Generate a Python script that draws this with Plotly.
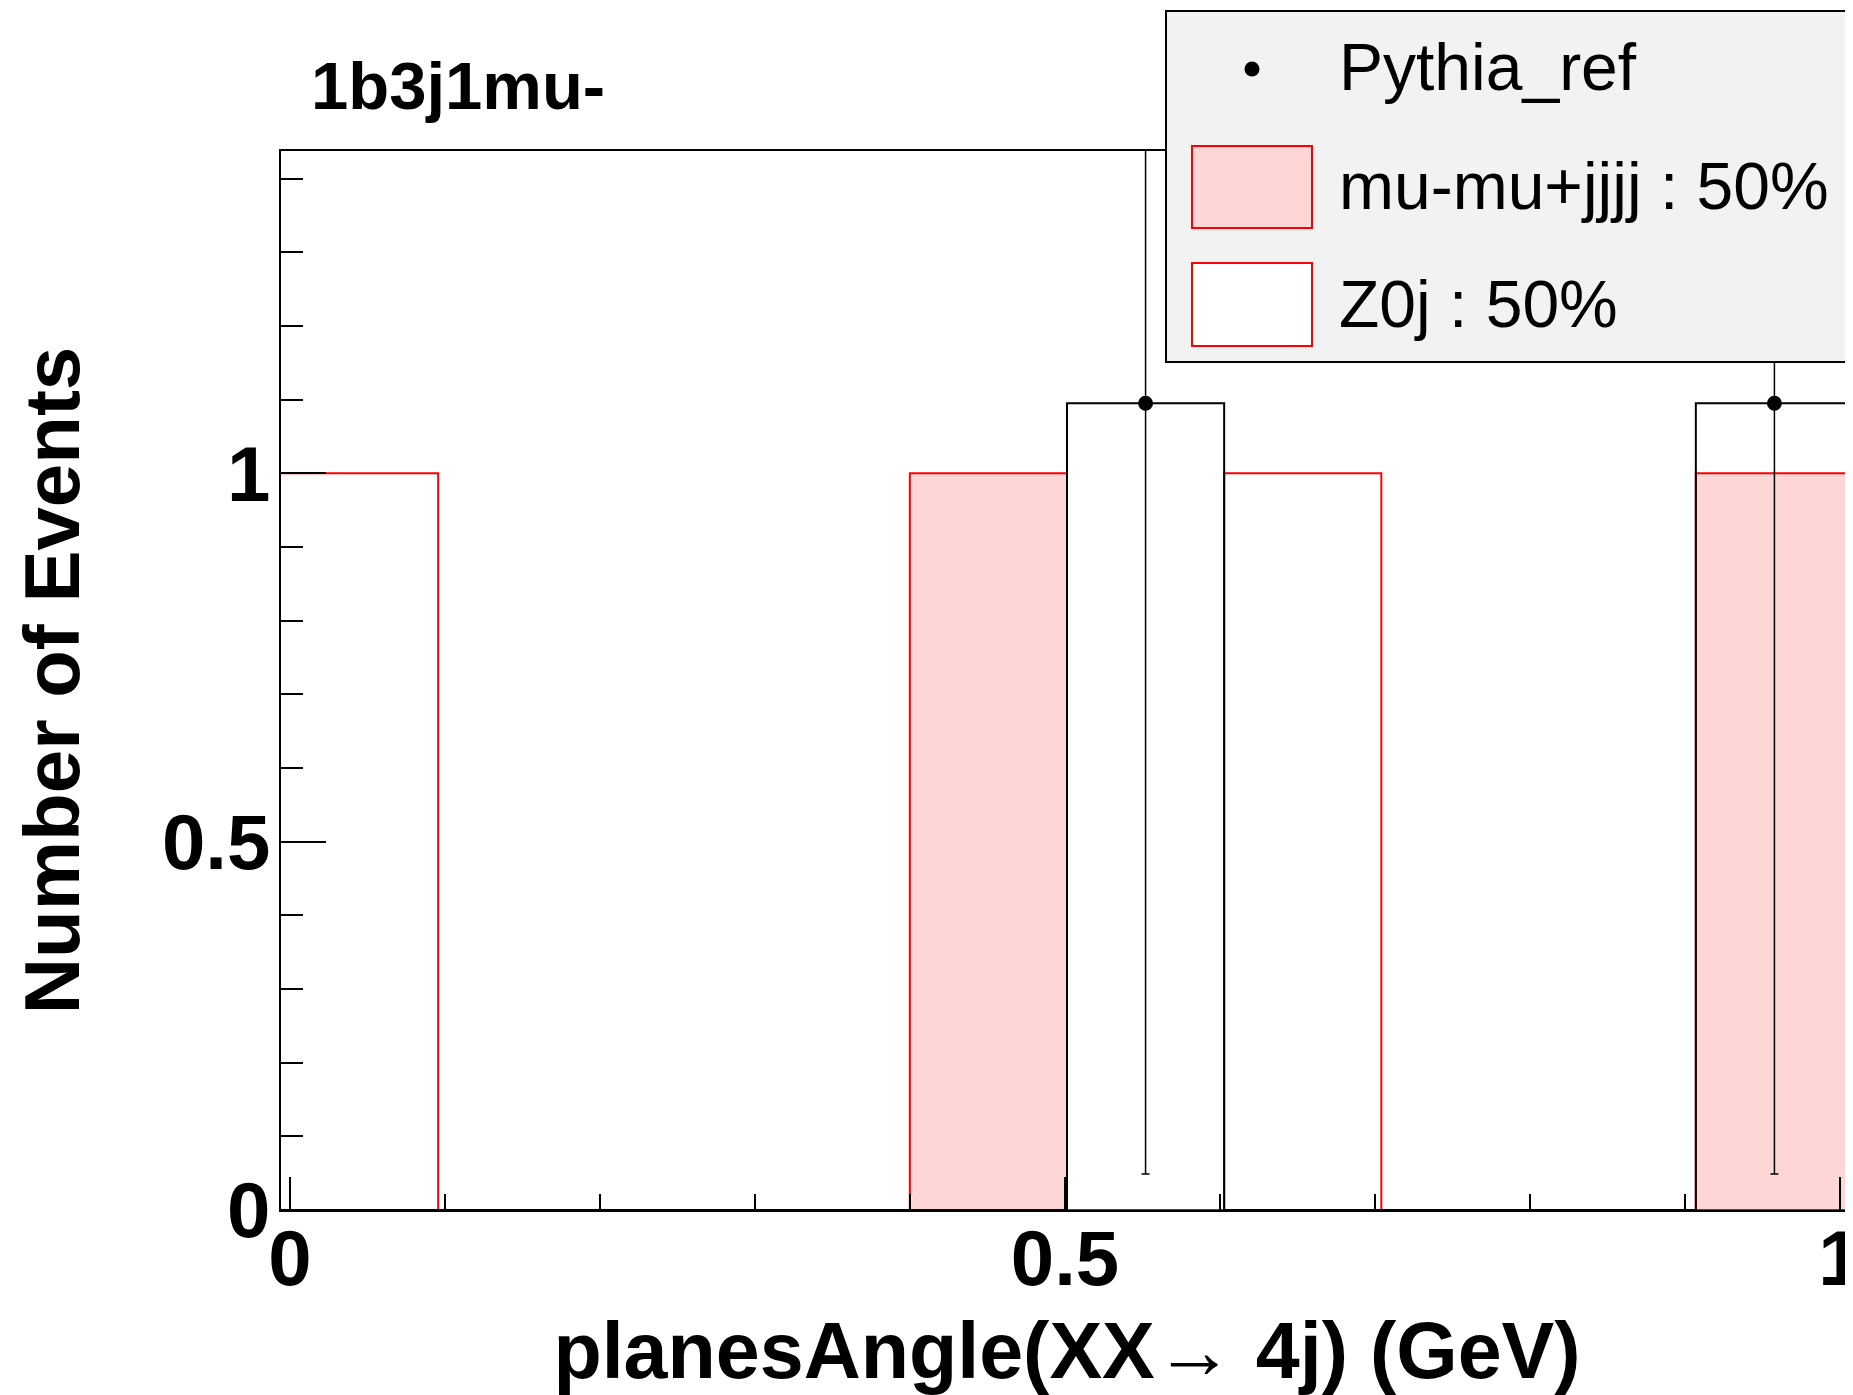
import numpy as np
import plotly.graph_objects as go

# ---------------- data ----------------
bin_edges = [-0.0058, 0.0956, 0.1970, 0.2985, 0.3999, 0.5013, 0.6027, 0.7041, 0.8056, 0.9070, 1.0084]
mumu_jjjj = [0, 0, 0, 0, 1, 0, 0, 0, 0, 1]
z0j = [1, 0, 0, 0, 0, 0, 1, 0, 0, 0]
pythia_ref = [0, 0, 0, 0, 0, 1.095, 0, 0, 0, 1.095]
pythia_err = [0, 0, 0, 0, 0, 1.046, 0, 0, 0, 1.046]

title_text = "1b3j1mu-"
x_title = "planesAngle(XX\u2192 4j) (GeV)"
y_title = "Number of Events"
legend_labels = ["Pythia_ref", "mu-mu+jjjj : 50%", "Z0j : 50%"]

# ---------------- style ----------------
OFF = 8  # page body margin of the browser
W, H = 1853 - OFF, 1395 - OFF
L, R, T, B = 281 - OFF, 0, 151 - OFF, 185
PINK = "#ffd6d6"
RED = "#ff0000"
FONT = "Liberation Sans, Arial, Helvetica, sans-serif"

edges = np.array(bin_edges)
centers = 0.5 * (edges[:-1] + edges[1:])


def step_y(vals):
    return list(vals) + [vals[-1]]


fig = go.Figure()

fig.add_trace(go.Scatter(
    x=bin_edges, y=step_y(mumu_jjjj), mode="lines", line_shape="hv",
    line=dict(color=RED, width=2), fill="tozeroy", fillcolor=PINK,
    name=legend_labels[1], showlegend=False, hoverinfo="skip"))

fig.add_trace(go.Scatter(
    x=bin_edges, y=step_y(z0j), mode="lines", line_shape="hv",
    line=dict(color=RED, width=2), fill="tozeroy", fillcolor="white",
    name=legend_labels[2], showlegend=False, hoverinfo="skip"))

fig.add_trace(go.Scatter(
    x=bin_edges, y=step_y(pythia_ref), mode="lines", line_shape="hv",
    line=dict(color="black", width=2),
    name=legend_labels[0] + " hist", showlegend=False, hoverinfo="skip"))

vals = np.array(pythia_ref)
errs = np.array(pythia_err)
mask = vals > 0
fig.add_trace(go.Scatter(
    x=centers[mask], y=vals[mask], mode="markers",
    marker=dict(color="black", size=15, symbol="circle"),
    error_y=dict(type="data", array=errs[mask], color="black", thickness=1.5, width=4),
    name=legend_labels[0], showlegend=False))

plot_w = W - L - R
plot_h = H - T - B


def px_x(px):
    # px given in screenshot coordinates
    return (px - OFF - L) / plot_w


def px_y(py):
    return (H - B - (py - OFF)) / plot_h


shapes = []
annotations = []

# legend box
shapes.append(dict(type="rect", xref="paper", yref="paper",
                   x0=px_x(1166), x1=px_x(1900), y0=px_y(362), y1=px_y(11),
                   fillcolor="#f2f2f2", line=dict(color="black", width=2), layer="above"))
# legend marker (Pythia_ref)
r = 7.5
shapes.append(dict(type="circle", xref="paper", yref="paper",
                   x0=px_x(1252 - r), x1=px_x(1252 + r), y0=px_y(69 + r), y1=px_y(69 - r),
                   fillcolor="black", line=dict(color="black", width=0), layer="above"))
# legend swatches
shapes.append(dict(type="rect", xref="paper", yref="paper",
                   x0=px_x(1192), x1=px_x(1312), y0=px_y(228), y1=px_y(146),
                   fillcolor=PINK, line=dict(color=RED, width=2), layer="above"))
shapes.append(dict(type="rect", xref="paper", yref="paper",
                   x0=px_x(1192), x1=px_x(1312), y0=px_y(346), y1=px_y(263),
                   fillcolor="white", line=dict(color=RED, width=2), layer="above"))

legend_y_px = [67, 186, 304]
for lab, ypx in zip(legend_labels, legend_y_px):
    annotations.append(dict(text=lab, xref="paper", yref="paper",
                            x=px_x(1337), y=px_y(ypx), xanchor="left", yanchor="middle",
                            showarrow=False, font=dict(family=FONT, size=66, color="black")))

# title
annotations.append(dict(text="<b>" + title_text + "</b>", xref="paper", yref="paper",
                        x=px_x(309), y=px_y(86), xanchor="left", yanchor="middle",
                        showarrow=False, font=dict(family=FONT, size=67, color="black")))

fig.update_layout(
    width=W, height=H,
    margin=dict(l=L, r=R, t=T, b=B, autoexpand=False),
    paper_bgcolor="white", plot_bgcolor="white",
    showlegend=False,
    font=dict(family=FONT, color="black"),
    shapes=shapes, annotations=annotations,
)

fig.update_xaxes(
    range=[bin_edges[0], bin_edges[-1]],
    tickmode="linear", tick0=0, dtick=0.5,
    ticks="inside", ticklen=33, tickwidth=2, tickcolor="black",
    minor=dict(tick0=0, dtick=0.1, ticks="inside", ticklen=16, tickwidth=2, tickcolor="black"),
    showline=True, linecolor="black", linewidth=2, mirror=True,
    showgrid=False, zeroline=False,
    tickfont=dict(family=FONT, size=78, color="black", weight="bold"),
    ticklabeloverflow="allow", ticklabelstandoff=-21,
    title=dict(text="<b>" + x_title + "</b>", font=dict(family=FONT, size=79, color="black"), standoff=43),
    automargin=False,
)

fig.update_yaxes(
    range=[0, 1.4375],
    tickmode="linear", tick0=0, dtick=0.5,
    ticks="inside", ticklen=45, tickwidth=2, tickcolor="black",
    minor=dict(tick0=0, dtick=0.1, ticks="inside", ticklen=22, tickwidth=2, tickcolor="black"),
    showline=True, linecolor="black", linewidth=2, mirror=False,
    showgrid=False, zeroline=False,
    tickfont=dict(family=FONT, size=78, color="black", weight="bold"),
    ticklabelstandoff=-7,
    title=dict(text="<b>" + y_title + "</b>", font=dict(family=FONT, size=78, color="black"), standoff=82),
    automargin=False,
)

fig.write_html("out.html")
